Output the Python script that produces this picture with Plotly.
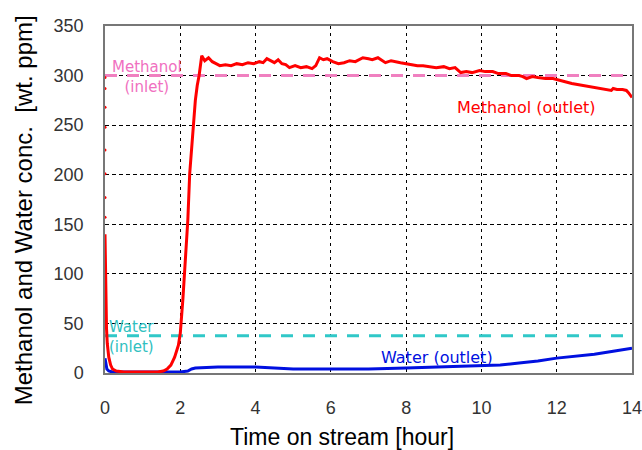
import plotly.graph_objects as go

# Methanol outlet concentration [wt. ppm] vs time [hour]
meoh_init_t = [0.0, 0.0, 0.0, 0.0, 0.0, 0.0, 0.0, 0.0]
meoh_init = [298, 287, 268, 248, 225, 201, 177, 157]
meoh_t = [0.0, 0.01, 0.02, 0.04, 0.06, 0.1, 0.15, 0.2, 0.3, 0.5, 0.8, 1.1, 1.4, 1.55, 1.65, 1.75, 1.85, 1.95, 2.0, 2.07, 2.13, 2.2, 2.25, 2.3, 2.34, 2.4, 2.45, 2.5, 2.57,
          2.65, 2.75, 2.85, 2.95, 3.05, 3.2, 3.35, 3.5, 3.65, 3.8, 3.95, 4.1, 4.2, 4.3, 4.4, 4.5, 4.6, 4.7, 4.8, 4.9, 5.05, 5.2, 5.35, 5.5, 5.6, 5.7, 5.8, 5.9, 6.05, 6.2, 6.35, 6.5, 6.65, 6.85, 7.0, 7.1, 7.25, 7.45, 7.6, 7.7, 7.85, 8.0,
          8.15, 8.3, 8.45, 8.6, 8.8, 9.0, 9.15, 9.3, 9.45, 9.6, 9.75, 9.95, 10.1, 10.3, 10.45, 10.65, 10.8, 11.0, 11.1, 11.2, 11.35, 11.5, 11.7, 11.9, 12.0, 12.1, 12.25, 12.4, 12.55, 12.7, 12.85, 13.0, 13.15, 13.3, 13.45, 13.5, 13.6, 13.75, 13.85, 13.9, 14.0]
meoh_out = [140, 100, 70, 45, 30, 16, 8, 4, 2, 1, 1, 1, 1, 2, 4, 8, 16, 28, 40, 75, 110, 154, 201, 225, 248, 275, 290, 300, 320,
            315, 318, 314, 312, 310, 311, 310, 312, 311, 313, 312, 314, 313, 317, 315, 313, 316, 312, 311, 308, 310, 308, 309, 307, 310, 318, 316, 317, 314, 312, 313, 315, 314, 318, 317, 316, 318, 313, 315, 314, 313, 312,
            311, 310, 310, 309, 308, 309, 307, 308, 303, 304, 303, 305, 304, 304, 302, 302, 300, 300, 299, 297, 299, 298, 297, 297, 296, 295, 293, 292, 291, 290, 289, 288, 287, 286, 285, 287, 286, 286, 285, 283, 278]

# Water outlet concentration [wt. ppm]
water_t = [0.0, 0.02, 0.05, 0.1, 0.2, 0.5, 1.0, 1.5, 2.0, 2.2, 2.3, 2.4, 3.0, 4.0, 4.5, 5.0, 6.0, 7.0, 8.0, 9.0, 10.0, 10.5, 11.0, 11.5, 12.0, 12.5, 13.0, 13.5, 14.0]
water_out = [15, 8, 4, 2, 1, 1, 1, 1, 1, 2, 4, 5, 6, 6, 5, 4, 4, 4, 5, 6, 7, 8, 10, 12, 15, 17, 19, 22, 25]

# Inlet concentrations [wt. ppm]
inlet_t = [0, 14]
meoh_in = [300, 300]
water_in = [37.5, 37.5]

x_ticks = [0, 2, 4, 6, 8, 10, 12, 14]
y_ticks = [0, 50, 100, 150, 200, 250, 300, 350]

fig = go.Figure()
fig.add_trace(go.Scatter(x=inlet_t, y=meoh_in, mode="lines",
                         line=dict(color="#f080c0", width=3, dash="12px,10px"), showlegend=False))
fig.add_trace(go.Scatter(x=inlet_t, y=water_in, mode="lines",
                         line=dict(color="#30c8c8", width=3, dash="12px,10px"), showlegend=False))
fig.add_trace(go.Scatter(x=water_t, y=water_out, mode="lines",
                         line=dict(color="#0010e0", width=3), showlegend=False))
fig.add_trace(go.Scatter(x=meoh_init_t, y=meoh_init, mode="markers",
                         marker=dict(color="#ff0000", size=3), showlegend=False, cliponaxis=False))
fig.add_trace(go.Scatter(x=meoh_t, y=meoh_out, mode="lines",
                         line=dict(color="#ff0000", width=3), showlegend=False))

ann_font = "DejaVu Sans"
fig.add_annotation(x=1.11, y=299, text="Methanol<br>(inlet)", showarrow=False,
                   font=dict(family=ann_font, size=15, color="#f070c0"), align="center")
fig.add_annotation(x=11.2, y=268, text="Methanol (outlet)", showarrow=False,
                   font=dict(family=ann_font, size=16, color="#ff0000"))
fig.add_annotation(x=0.06, y=36, text="Water<br>(inlet)", showarrow=False, xanchor="left",
                   font=dict(family=ann_font, size=15, color="#30c0c0"), align="left")
fig.add_annotation(x=8.83, y=16, text="Water (outlet)", showarrow=False,
                   font=dict(family=ann_font, size=16, color="#0010e0"))

# axis titles
fig.add_annotation(xref="paper", yref="paper", x=0.449, y=-0.185, yanchor="middle",
                   text="Time on stream [hour]", showarrow=False,
                   font=dict(family="Liberation Sans", size=23, color="#000"))
fig.add_annotation(xref="paper", yref="paper", x=-0.153, y=0.47, xanchor="center", yanchor="middle",
                   text="Methanol and Water conc.  [wt. ppm]", showarrow=False, textangle=-90,
                   font=dict(family="Liberation Sans", size=24, color="#000"))

fig.update_xaxes(range=[0, 14], tickvals=x_ticks, showgrid=True, gridcolor="#000", gridwidth=1,
                 griddash="3px,4px", showline=True, linecolor="#777", linewidth=1.5, mirror=True,
                 ticks="", ticklabelstandoff=18, zeroline=False, automargin=False,
                 ticklabeloverflow="allow",
                 tickfont=dict(family="Liberation Sans", size=18, color="#333"))
fig.update_yaxes(range=[0, 350], tickvals=y_ticks, showgrid=True, gridcolor="#000", gridwidth=1,
                 griddash="4px,3px", showline=True, linecolor="#777", linewidth=1.5, mirror=True,
                 ticks="", ticklabelstandoff=16, zeroline=False, automargin=False,
                 ticklabeloverflow="allow",
                 tickfont=dict(family="Liberation Sans", size=18, color="#333"))

fig.update_layout(width=642, height=450, margin=dict(l=105, r=10, t=26, b=77),
                  plot_bgcolor="white", paper_bgcolor="white", showlegend=False)

fig.write_html("out.html")
